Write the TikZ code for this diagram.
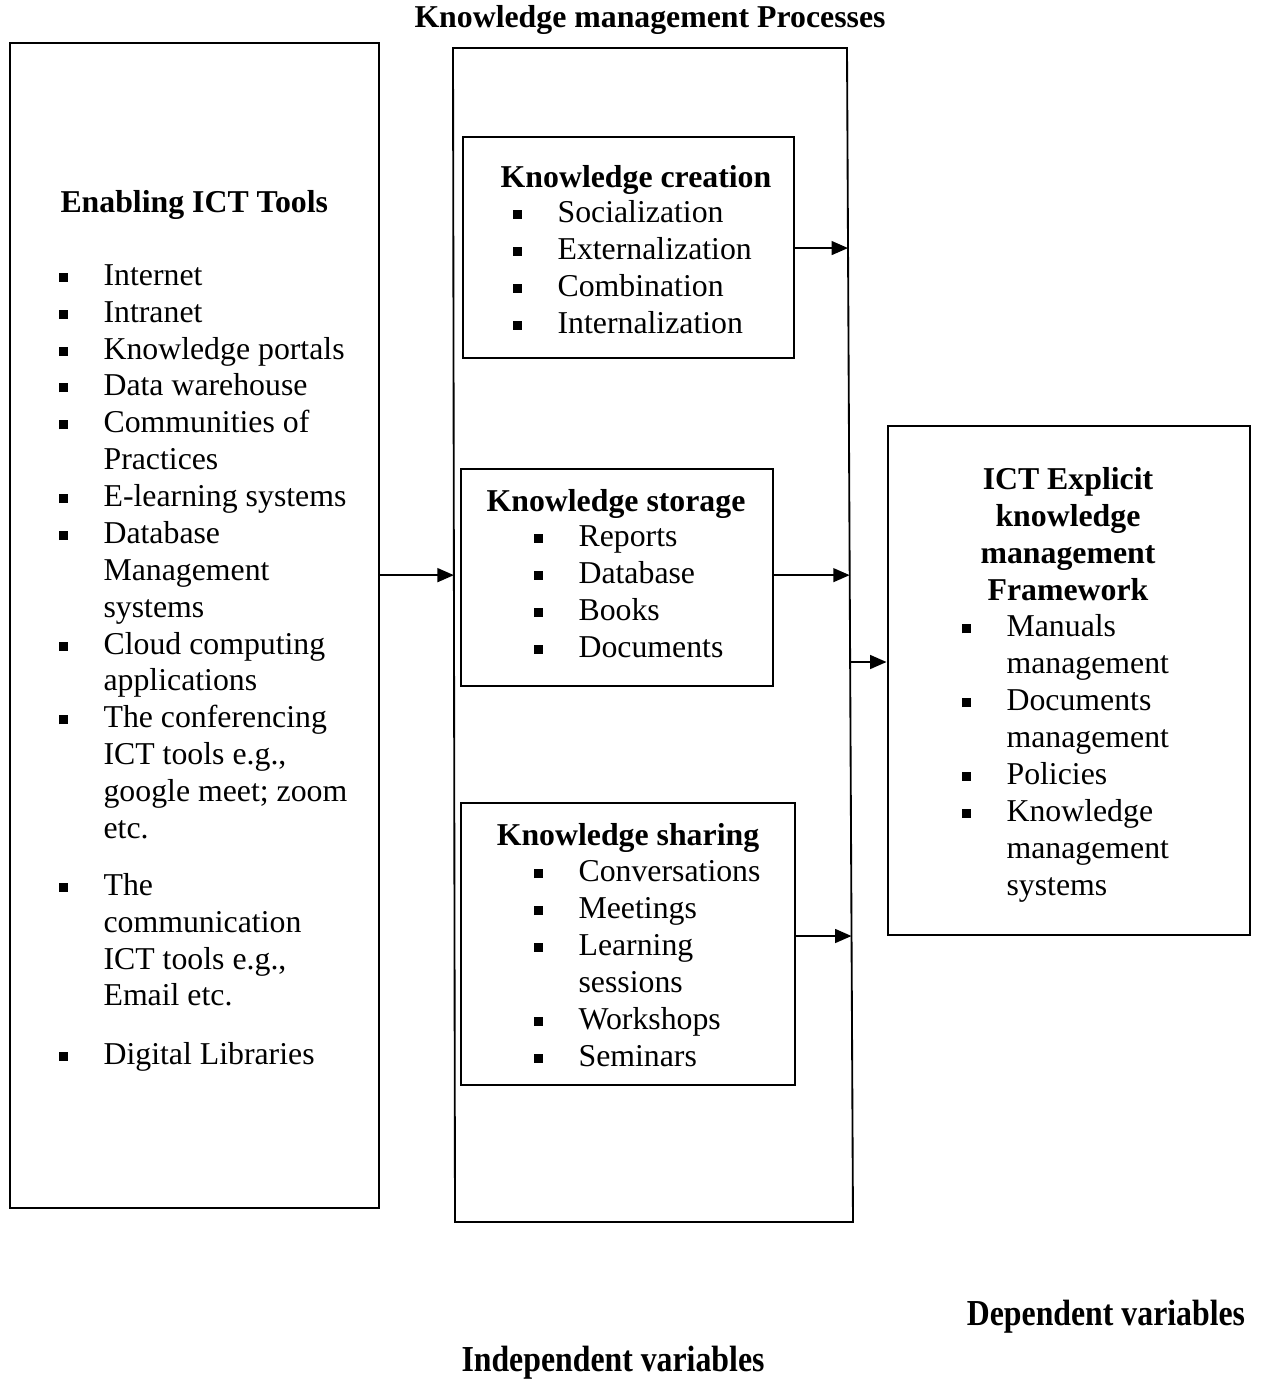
\documentclass[tikz,border=0pt]{standalone}
\usepackage{fontspec}
\setmainfont{Liberation Serif}
\usetikzlibrary{arrows.meta,calc,fit}

% square bullet and the matching indent
\newcommand{\sq}{\makebox[17pt][l]{\rule[1.3pt]{3.4pt}{3.4pt}}}
\newcommand{\ind}{\hspace*{17pt}}

\begin{document}
\begin{tikzpicture}[x=0.3774pt, y=-0.3774pt,
    font=\fontsize{12}{13.92}\selectfont,
    box/.style={draw, line width=1.1pt, inner sep=0pt},
    arr/.style={-{Triangle[length=6.2pt,width=5.2pt]}, line width=0.8pt},
    lst/.style={anchor=base west, align=left, inner sep=0pt},
    head/.style={inner sep=0pt, font=\fontsize{12}{13.92}\selectfont\bfseries}]

        \useasboundingbox (0,0) rectangle (1261,1381);

        % Title
        \node[head] (title) at (650,20) {Knowledge management Processes};

        % Left box (lists sit on the baseline of their last line)
        \node[box, fit={(10,43) (379,1208)}] (tools) {};
        \node[head, anchor=base west] (toolshead) at (60,212) {Enabling ICT Tools};
        \node[lst] (toolslist) at (58,1064) {%
            \sq Internet\\ \sq Intranet\\ \sq Knowledge portals\\ \sq Data warehouse\\
            \sq Communities of\\ \ind Practices\\ \sq E-learning systems\\
            \sq Database\\ \ind Management\\ \ind systems\\
            \sq Cloud computing\\ \ind applications\\
            \sq The conferencing\\ \ind ICT tools e.g.,\\ \ind google meet; zoom\\ \ind etc.\\[7.5pt]
            \sq The\\ \ind communication\\ \ind ICT tools e.g.,\\ \ind Email etc.\\[8pt]
            \sq Digital Libraries};

        % Middle frame
        \coordinate (otl) at (453,48);
        \coordinate (otr) at (847,48);
        \coordinate (obr) at (853,1222);
        \coordinate (obl) at (455,1222);
        \draw[line width=0.7pt] (otl) -- (otr) -- (obr) -- (obl) -- cycle;

        % Knowledge creation
        \node[box, fit={(463,137) (794,358)}] (creation) {};
        \node[head, anchor=base] (creationhead) at (636,187) {Knowledge creation};
        \node[lst] (creationlist) at (512,333) {%
            \sq Socialization\\ \sq Externalization\\ \sq Combination\\ \sq Internalization};

        % Knowledge storage
        \node[box, fit={(461,469) (773,686)}] (storage) {};
        \node[head, anchor=base] (storagehead) at (616,511) {Knowledge storage};
        \node[lst] (storagelist) at (533,657) {%
            \sq Reports\\ \sq Database\\ \sq Books\\ \sq Documents};

        % Knowledge sharing
        \node[box, fit={(461,803) (795,1085)}] (sharing) {};
        \node[head, anchor=base] (sharinghead) at (628,845) {Knowledge sharing};
        \node[lst] (sharinglist) at (533,1066) {%
            \sq Conversations\\ \sq Meetings\\ \sq Learning\\ \ind sessions\\
            \sq Workshops\\ \sq Seminars};

        % Right box
        \node[box, fit={(888,426) (1250,935)}] (ict) {};
        \node[head, anchor=base, align=center] (icthead) at (1068,600) {ICT Explicit\\ knowledge\\ management\\ Framework};
        \node[lst] (ictlist) at (961,895) {%
            \sq Manuals\\ \ind management\\ \sq Documents\\ \ind management\\
            \sq Policies\\ \sq Knowledge\\ \ind management\\ \ind systems};

        % Arrows
        \coordinate (inl) at ($(otl)!0.449!(obl)$);
        \coordinate (c1) at ($(otr)!0.1704!(obr)$);
        \coordinate (c2) at ($(otr)!0.449!(obr)$);
        \coordinate (c3) at ($(otr)!0.7564!(obr)$);
        \coordinate (c4) at ($(otr)!0.523!(obr)$);
        \draw[arr] (tools.east |- inl) -- (inl);
        \draw[arr] (creation.east |- c1) -- (c1);
        \draw[arr] (storage.east |- c2) -- (c2);
        \draw[arr] (sharing.east |- c3) -- (c3);
        \draw[arr] (c4) -- (c4 -| ict.west);

        % Variable labels
        \node[head] (dep) at (1106,1317) {\scalebox{1}[1.15]{Dependent variables}};
        \node[head] (indep) at (613,1363) {\scalebox{1}[1.15]{Independent variables}};
    \end{tikzpicture}
\end{document}
